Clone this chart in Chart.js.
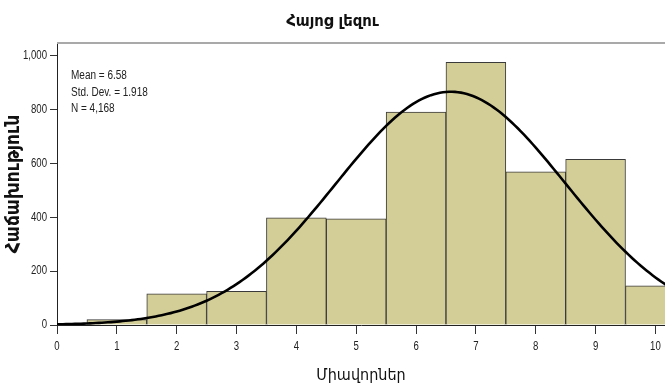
<!DOCTYPE html>
<html>
<head>
<meta charset="utf-8">
<script src="https://cdn.jsdelivr.net/npm/chart.js@4/dist/chart.umd.min.js"></script>
<style>
  html, body { margin: 0; padding: 0; background: #fff; overflow: hidden; }
  #wrap { position: relative; width: 665px; height: 388px; }
</style>
</head>
<body>
<div id="wrap"><canvas id="c" width="665" height="388"></canvas></div>
<script>
// Histogram bins (bin centres) and frequencies
const binCenters = [1, 2, 3, 4, 5, 6, 7, 8, 9, 10];
const frequencies = [20, 116, 125, 398, 395, 791, 976, 569, 616, 146];

// Summary statistics shown in the legend box
const statMean = 6.58;
const statSD = 1.918;
const statN = 4168;
const statLines = ['Mean = 6.58', 'Std. Dev. = 1.918', 'N = 4,168'];

// Axis ticks and texts
const xTicks = [0, 1, 2, 3, 4, 5, 6, 7, 8, 9, 10];
const yTicks = [0, 200, 400, 600, 800, 1000];
const chartTitle = 'Հայոց լեզու';
const xTitle = 'Միավորներ';
const yTitle = 'Հաճախություն';

const X_MIN = 0, X_MAX = 10.16;
const Y_MIN = 0, Y_MAX = 1048;

// Fitted normal curve: N * binWidth * pdf(x; mean, sd)
const curveX = [];
for (let i = 0; i <= 204; i++) curveX.push(+(i * 0.05).toFixed(2));
const curve = curveX.map(x => {
  const z = (x - statMean) / statSD;
  return { x, y: statN * 1 / (statSD * Math.sqrt(2 * Math.PI)) * Math.exp(-0.5 * z * z) };
});

const condensed = "'DejaVu Sans Condensed', 'DejaVu Sans', sans-serif";
const NARROW = 0.8; // horizontal squeeze for the narrow label face

// draw a horizontally squeezed label
function narrowText(ctx, text, x, y, align, size) {
  ctx.save();
  ctx.font = size + "px 'Liberation Sans', Arial, sans-serif";
  ctx.textAlign = align;
  ctx.translate(x, y);
  ctx.scale(NARROW, 1);
  ctx.fillText(text, 0, 0);
  ctx.restore();
}

const frame = {
  id: 'frame',
  afterDraw(chart) {
    const { ctx, chartArea, scales } = chart;
    ctx.save();
    // gray frame line along the top of the plot
    ctx.strokeStyle = '#a9a9a9';
    ctx.lineWidth = 2;
    ctx.beginPath();
    ctx.moveTo(chartArea.left, chartArea.top);
    ctx.lineTo(chartArea.right, chartArea.top);
    ctx.stroke();

    ctx.fillStyle = '#222';
    // x tick labels
    ctx.textBaseline = 'middle';
    xTicks.forEach(v => narrowText(ctx, String(v), scales.x.getPixelForValue(v), chartArea.bottom + 22, 'center', 12));
    // y tick labels
    yTicks.forEach(v => narrowText(ctx, v.toLocaleString('en-US'), scales.y.left + 47, scales.y.getPixelForValue(v), 'right', 12));
    // statistics box
    ctx.textBaseline = 'alphabetic';
    statLines.forEach((t, i) => narrowText(ctx, t, chartArea.left + 14, 79 + i * 16.5, 'left', 12.5));
    ctx.restore();
  }
};

new Chart(document.getElementById('c'), {
  data: {
    datasets: [
      {
        type: 'line',
        data: curve,
        borderColor: '#000',
        borderWidth: 2.6,
        pointRadius: 0,
        tension: 0,
        fill: false,
        order: 0
      },
      {
        type: 'bar',
        data: binCenters.map((x, i) => ({ x, y: frequencies[i] })),
        backgroundColor: '#d3ce97',
        borderColor: '#3a3a3a',
        borderWidth: 1,
        barPercentage: 1,
        categoryPercentage: 1,
        order: 1
      }
    ]
  },
  options: {
    responsive: false,
    animation: false,
    layout: { padding: { left: 0, right: 0, top: 0, bottom: 0 } },
    plugins: {
      legend: { display: false },
      tooltip: { enabled: false },
      title: {
        display: true,
        text: chartTitle,
        color: '#111',
        font: { family: condensed, size: 16.5, weight: 'bold', lineHeight: 1.2 },
        padding: { top: 12, bottom: 11.2 }
      }
    },
    scales: {
      x: {
        type: 'linear',
        min: X_MIN,
        max: X_MAX,
        offset: false,
        afterFit(s) { s.height = 63; },
        afterBuildTicks(s) { s.ticks = xTicks.map(v => ({ value: v })); },
        grid: { offset: false, drawOnChartArea: false, drawTicks: true, tickLength: 9, color: '#333' },
        border: { display: true, color: '#222', width: 1 },
        ticks: { display: false, autoSkip: false, maxRotation: 0 },
        title: {
          display: true,
          text: xTitle,
          color: '#111',
          font: { family: condensed, size: 16, lineHeight: 1.2 },
          padding: { top: 0, bottom: 3 }
        }
      },
      y: {
        type: 'linear',
        min: Y_MIN,
        max: Y_MAX,
        afterFit(s) { s.width = 57; },
        afterBuildTicks(s) { s.ticks = yTicks.map(v => ({ value: v })); },
        grid: { drawOnChartArea: false, drawTicks: true, tickLength: 7, color: '#333' },
        border: { display: true, color: '#222', width: 1 },
        ticks: { display: false },
        title: {
          display: true,
          text: yTitle,
          color: '#111',
          font: { family: condensed, size: 19, weight: 'bold', lineHeight: 1.2 },
          padding: { top: 3, bottom: 0 }
        }
      }
    }
  },
  plugins: [frame]
});
</script>
</body>
</html>
